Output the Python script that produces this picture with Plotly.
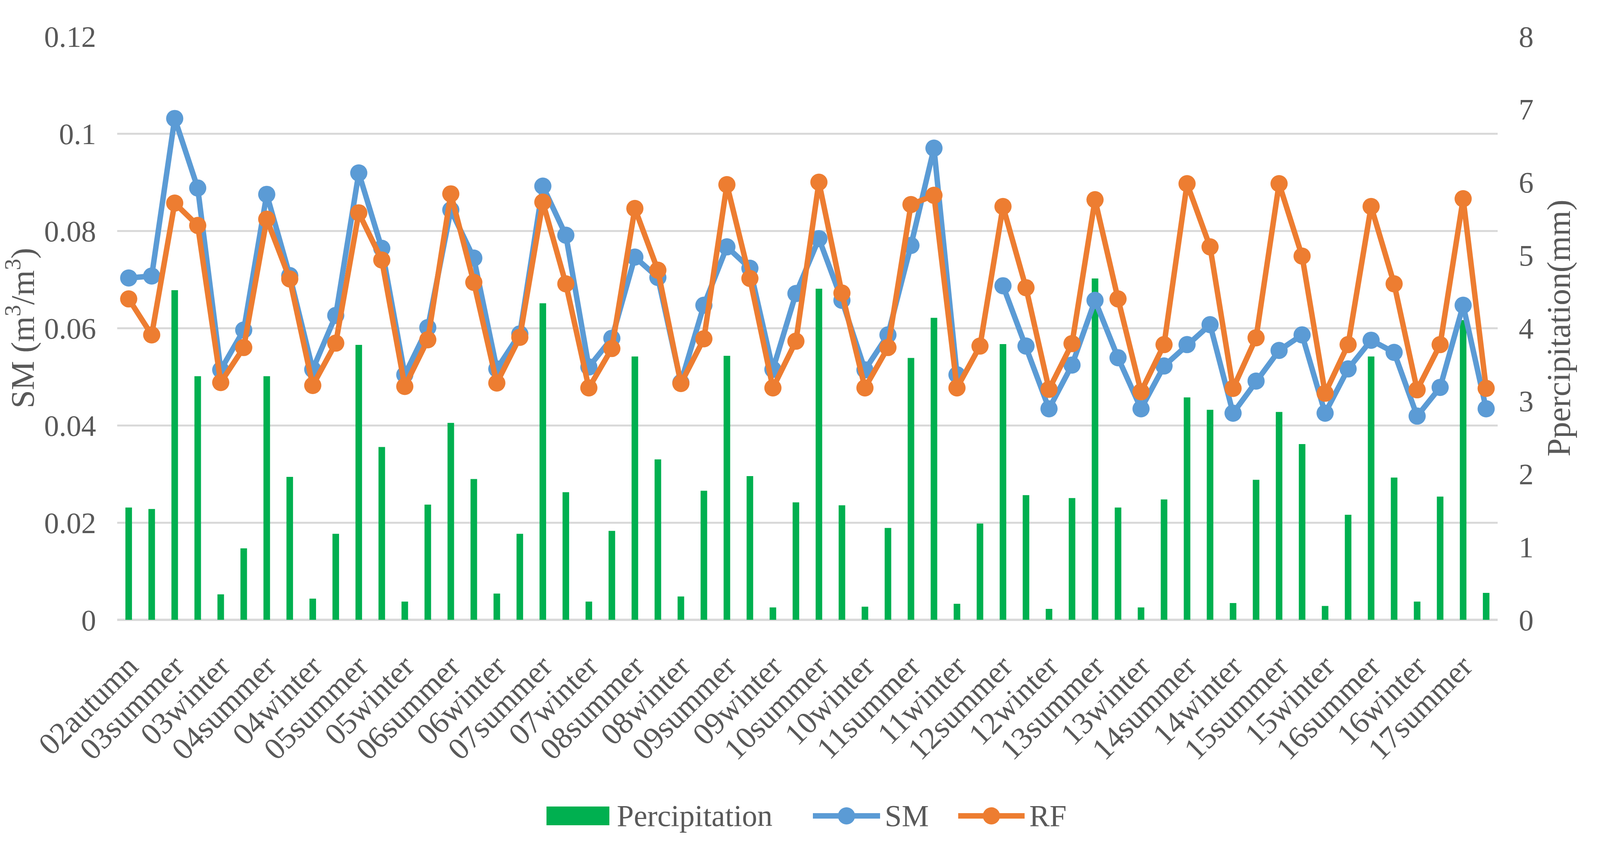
import plotly.graph_objects as go

categories = [
    "02autumn", "03spring", "03summer", "03autumn", "03winter", "04spring", "04summer", "04autumn", "04winter", "05spring",
    "05summer", "05autumn", "05winter", "06spring", "06summer", "06autumn", "06winter", "07spring", "07summer", "07autumn",
    "07winter", "08spring", "08summer", "08autumn", "08winter", "09spring", "09summer", "09autumn", "09winter", "10spring",
    "10summer", "10autumn", "10winter", "11spring", "11summer", "11autumn", "11winter", "12spring", "12summer", "12autumn",
    "12winter", "13spring", "13summer", "13autumn", "13winter", "14spring", "14summer", "14autumn", "14winter", "15spring",
    "15summer", "15autumn", "15winter", "16spring", "16summer", "16autumn", "16winter", "17spring", "17summer", "17autumn",
]

precipitation = [
    1.54, 1.52, 4.52, 3.34, 0.35, 0.98, 3.34, 1.96, 0.29, 1.18,
    3.77, 2.37, 0.25, 1.58, 2.70, 1.93, 0.36, 1.18, 4.34, 1.75,
    0.25, 1.22, 3.61, 2.20, 0.32, 1.77, 3.62, 1.97, 0.17, 1.61,
    4.54, 1.57, 0.18, 1.26, 3.59, 4.14, 0.22, 1.32, 3.78, 1.71,
    0.15, 1.67, 4.68, 1.54, 0.17, 1.65, 3.05, 2.88, 0.23, 1.92,
    2.85, 2.41, 0.19, 1.44, 3.61, 1.95, 0.25, 1.69, 4.11, 0.37,
]

sm = [
    0.0703, 0.0707, 0.1031, 0.0888, 0.0514, 0.0596, 0.0875, 0.0708, 0.0515, 0.0626,
    0.0919, 0.0764, 0.0504, 0.0601, 0.0843, 0.0744, 0.0516, 0.0588, 0.0892, 0.0791,
    0.0520, 0.0579, 0.0746, 0.0704, 0.0488, 0.0647, 0.0767, 0.0723, 0.0515, 0.0671,
    0.0784, 0.0657, 0.0514, 0.0586, 0.0770, 0.0970, 0.0504, None, 0.0687, 0.0563,
    0.0434, 0.0524, 0.0657, 0.0539, 0.0434, 0.0522, 0.0566, 0.0607, 0.0425, 0.0491,
    0.0554, 0.0586, 0.0425, 0.0516, 0.0575, 0.0550, 0.0419, 0.0478, 0.0647, 0.0434,
]

rf = [
    0.0660, 0.0586, 0.0857, 0.0811, 0.0488, 0.0560, 0.0824, 0.0701, 0.0482, 0.0569,
    0.0837, 0.0740, 0.0480, 0.0576, 0.0876, 0.0694, 0.0487, 0.0581, 0.0859, 0.0691,
    0.0477, 0.0558, 0.0846, 0.0719, 0.0486, 0.0578, 0.0895, 0.0702, 0.0477, 0.0573,
    0.0900, 0.0672, 0.0477, 0.0560, 0.0854, 0.0873, 0.0477, 0.0563, 0.0850, 0.0683,
    0.0474, 0.0568, 0.0864, 0.0660, 0.0469, 0.0566, 0.0897, 0.0767, 0.0476, 0.0580,
    0.0897, 0.0748, 0.0466, 0.0566, 0.0850, 0.0691, 0.0473, 0.0566, 0.0866, 0.0476,
]

tick_labels = categories[::2]
series_names = ["Percipitation", "SM", "RF"]

FONT = "Liberation Serif"
GREY = "#595959"
GRID = "#D9D9D9"
GREEN = "#00B050"
BLUE = "#5B9BD5"
ORANGE = "#ED7D31"

W0, H0 = 5706, 2161
ML, MR, MT, MB = 366, 310, 93, 574

fig = go.Figure()
fig.add_trace(go.Bar(
    x=categories, y=precipitation, name=series_names[0],
    marker=dict(color=GREEN, line=dict(width=0)), yaxis="y",
))
fig.add_trace(go.Scatter(
    x=categories, y=sm, name=series_names[1], mode="lines+markers", yaxis="y2",
    line=dict(color=BLUE, width=14), marker=dict(size=44, color=BLUE),
    connectgaps=False, cliponaxis=False,
))
fig.add_trace(go.Scatter(
    x=categories, y=rf, name=series_names[2], mode="lines+markers", yaxis="y2",
    line=dict(color=ORANGE, width=14), marker=dict(size=44, color=ORANGE),
    cliponaxis=False,
))

# Legend drawn below the plot (Excel-style large symbols), centred on the figure
LEG_Y = -0.336
shapes = [
    dict(type="rect", xref="paper", yref="paper", xsizemode="pixel", ysizemode="pixel",
         xanchor=0.5, yanchor=LEG_Y, x0=-668, x1=-507, y0=-24, y1=24,
         fillcolor=GREEN, line=dict(width=0)),
    dict(type="line", xref="paper", yref="paper", xsizemode="pixel", ysizemode="pixel",
         xanchor=0.5, yanchor=LEG_Y, x0=14, x1=186, y0=0, y1=0,
         line=dict(color=BLUE, width=14)),
    dict(type="circle", xref="paper", yref="paper", xsizemode="pixel", ysizemode="pixel",
         xanchor=0.5, yanchor=LEG_Y, x0=78, x1=122, y0=-22, y1=22,
         fillcolor=BLUE, line=dict(width=0)),
    dict(type="line", xref="paper", yref="paper", xsizemode="pixel", ysizemode="pixel",
         xanchor=0.5, yanchor=LEG_Y, x0=386, x1=556, y0=0, y1=0,
         line=dict(color=ORANGE, width=14)),
    dict(type="circle", xref="paper", yref="paper", xsizemode="pixel", ysizemode="pixel",
         xanchor=0.5, yanchor=LEG_Y, x0=449, x1=493, y0=-22, y1=22,
         fillcolor=ORANGE, line=dict(width=0)),
]
annotations = [
    dict(text=series_names[0], xref="paper", yref="paper", x=0.5, y=LEG_Y, xshift=-490,
         xanchor="left", yanchor="middle", showarrow=False, font=dict(size=78, color=GREY)),
    dict(text=series_names[1], xref="paper", yref="paper", x=0.5, y=LEG_Y, xshift=196,
         xanchor="left", yanchor="middle", showarrow=False, font=dict(size=78, color=GREY)),
    dict(text=series_names[2], xref="paper", yref="paper", x=0.5, y=LEG_Y, xshift=566,
         xanchor="left", yanchor="middle", showarrow=False, font=dict(size=78, color=GREY)),
]

fig.update_layout(
    width=W0, height=H0,
    margin=dict(l=ML, r=MR, t=MT, b=MB, autoexpand=False),
    paper_bgcolor="white", plot_bgcolor="white",
    font=dict(family=FONT, color=GREY, size=76),
    bargap=0.714,
    showlegend=False,
    shapes=shapes,
    annotations=annotations,
    xaxis=dict(
        type="category", range=[-0.5, len(categories) - 0.5],
        tickmode="array", tickvals=tick_labels, ticktext=tick_labels,
        tickangle=-45, tickfont=dict(size=80, color=GREY), showgrid=False,
        showline=False, ticks="", ticklabelstandoff=55,
    ),
    yaxis=dict(
        range=[0, 8], dtick=1, side="right", showgrid=False, zeroline=False,
        tickfont=dict(size=76, color=GREY), ticks="", ticklabelstandoff=70,
        title=dict(text="Ppercipitation(mm)", font=dict(size=84, color=GREY), standoff=35),
    ),
    yaxis2=dict(
        range=[0, 0.120001], dtick=0.02, side="left", overlaying="y",
        showgrid=True, gridcolor=GRID, gridwidth=5,
        zeroline=True, zerolinecolor=GRID, zerolinewidth=6,
        tickfont=dict(size=76, color=GREY), ticks="", ticklabelstandoff=70,
        tickformat="~g",
        title=dict(text="SM (m<sup>3</sup>/m<sup>3</sup>)", font=dict(size=84, color=GREY), standoff=12),
    ),
)

# Fit the figure to the actual browser viewport, keeping the reference proportions
# while leaving enough room for the axis texts.
post_js = """
document.documentElement.style.margin='0';
document.body.style.margin='0';
document.documentElement.style.overflow='hidden';
document.body.style.overflow='hidden';
var gd=document.getElementById('{plot_id}');
var W=window.innerWidth, H=window.innerHeight;
var sx=W/%d, sy=H/%d;
var so=Math.round(70*Math.max(sx,0.75));
return Plotly.relayout(gd,{width:W,height:H,
  'margin.l':Math.max(%d*sx,300),'margin.r':Math.max(%d*sx,262),
  'margin.t':%d*sy,'margin.b':%d*sy,
  'yaxis.ticklabelstandoff':so,'yaxis2.ticklabelstandoff':so});
""" % (W0, H0, ML, MR, MT, MB)

fig.write_html("out.html", post_script=post_js, config={"displayModeBar": False})
